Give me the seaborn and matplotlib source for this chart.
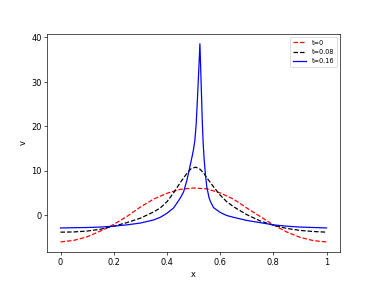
import seaborn as sns
import matplotlib.pyplot as plt
import pandas as pd

# values
x_t0 = [0, 0.05, 0.1, 0.15, 0.2, 0.25, 0.3, 0.35, 0.4, 0.45, 0.5,
        0.55, 0.6, 0.65, 0.7, 0.75, 0.8, 0.85, 0.9, 0.95, 1.0]
v_t0 = [-6.05, -5.7, -4.9, -3.6, -2.1, -0.3, 1.8, 3.6, 4.9, 5.8, 6.1,
        5.9, 5.0, 3.6, 1.6, -0.3, -2.2, -3.8, -5.0, -5.75, -6.05]

x_t1 = [0, 0.05, 0.1, 0.15, 0.2, 0.25, 0.3, 0.35, 0.375, 0.4, 0.425, 0.45, 0.475,
        0.49, 0.508, 0.525, 0.54, 0.55, 0.575, 0.6, 0.625, 0.65, 0.7, 0.75,
        0.8, 0.85, 0.9, 0.95, 1.0]
v_t1 = [-3.85, -3.8, -3.6, -3.2, -2.5, -1.7, -0.7, 0.7, 1.6, 3.0, 5.0, 7.3, 9.4,
        10.4, 10.8, 10.3, 9.3, 8.4, 6.4, 4.5, 3.0, 1.9, 0.1, -1.3,
        -2.3, -3.0, -3.45, -3.7, -3.85]

x_t2 = [0, 0.05, 0.1, 0.15, 0.2, 0.25, 0.3, 0.35, 0.375, 0.4, 0.425, 0.45, 0.4625,
        0.475, 0.4875, 0.495, 0.5, 0.505, 0.51, 0.515, 0.52, 0.524, 0.527, 0.53,
        0.533, 0.536, 0.54, 0.545, 0.55, 0.558, 0.5625, 0.575, 0.6, 0.625, 0.65,
        0.7, 0.75, 0.8, 0.85, 0.9, 0.95, 1.0]
v_t2 = [-2.9, -2.85, -2.8, -2.7, -2.5, -2.2, -1.8, -1.1, -0.5, 0.4, 1.6, 3.8, 5.2,
        7.8, 11.2, 13.3, 14.8, 16.8, 20.5, 26.5, 33.0, 38.6, 33.0, 27.0,
        21.0, 16.5, 12.5, 9.0, 6.3, 4.0, 3.2, 1.7, 0.6, -0.1, -0.5,
        -1.2, -1.7, -2.2, -2.5, -2.7, -2.8, -2.9]

labels = ["t=0", "t=0.08", "t=0.16"]
x_ticks = [0, 0.2, 0.4, 0.6, 0.8, 1]
x_ticklabels = ["0", "0.2", "0.4", "0.6", "0.8", "1"]

df0 = pd.DataFrame({"x": x_t0, "v": v_t0})
df1 = pd.DataFrame({"x": x_t1, "v": v_t1})
df2 = pd.DataFrame({"x": x_t2, "v": v_t2})

fig, ax = plt.subplots(figsize=(6.4, 4.8))

sns.lineplot(data=df0, x="x", y="v", color="red", linestyle="--", label=labels[0], ax=ax)
sns.lineplot(data=df1, x="x", y="v", color="black", linestyle="--", label=labels[1], ax=ax)
sns.lineplot(data=df2, x="x", y="v", color="blue", linestyle="-", label=labels[2], ax=ax)

ax.set_xticks(x_ticks)
ax.set_xticklabels(x_ticklabels)
ax.set_xlabel("x")
ax.set_ylabel("v")
ax.legend(loc="upper right", fontsize=8)

plt.savefig("out.png", dpi=59)
plt.close()
